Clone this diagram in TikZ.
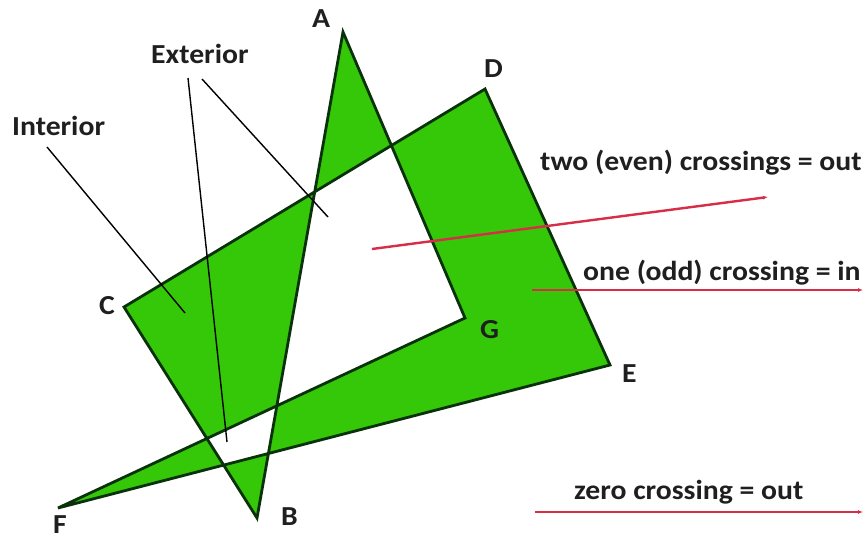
\documentclass[tikz,border=0pt]{standalone}
\usepackage{fontspec}
\setmainfont{Carlito}[FakeStretch=1.08]
\usetikzlibrary{arrows.meta}
\definecolor{polyfill}{RGB}{52,200,8}
\definecolor{polyedge}{RGB}{10,50,10}
\definecolor{rayred}{RGB}{215,45,70}
\tikzset{
  lbl/.style={anchor=base west, inner sep=0pt, font=\fontsize{27.5}{32}\selectfont\bfseries, text=black!88},
  ray/.style={rayred, line width=2.4pt, -{Latex[length=5pt,width=4pt]}},
  leader/.style={black, line width=1.4pt},
}
\begin{document}
\begin{tikzpicture}[x=1pt,y=-1pt]
\useasboundingbox (0,0) rectangle (864,541);
\fill[white] (0,0) rectangle (864,541);
\coordinate (A) at (343,32);
\coordinate (B) at (257,518);
\coordinate (C) at (124,307);
\coordinate (D) at (485,89);
\coordinate (E) at (610,365);
\coordinate (F) at (58,508);
\coordinate (G) at (465,318);
\fill[polyfill, even odd rule] (A)--(B)--(C)--(D)--(E)--(F)--(G)--cycle;
\draw[polyedge, line width=2.8pt, line join=miter] (A)--(B)--(C)--(D)--(E)--(F)--(G)--cycle;
% leader lines
\coordinate (i1) at (47,147); \coordinate (i2) at (185,313);
\coordinate (e1) at (188,78); \coordinate (e2) at (227,442);
\coordinate (e3) at (202,79); \coordinate (e4) at (328,217);
\draw[leader] (i1)--(i2);
\draw[leader] (e1)--(e2);
\draw[leader] (e3)--(e4);
% rays
\coordinate (r1a) at (372,249); \coordinate (r1b) at (768,197);
\coordinate (r2a) at (532,290); \coordinate (r2b) at (863,290);
\coordinate (r3a) at (535,512); \coordinate (r3b) at (863,512);
\draw[ray] (r1a)--(r1b);
\draw[ray] (r2a)--(r2b);
\draw[ray] (r3a)--(r3b);
% labels
\node[lbl] (lA) at (312,27) {A};
\node[lbl] (lB) at (281,525) {B};
\node[lbl] (lC) at (99,314) {C};
\node[lbl] (lD) at (484,77) {D};
\node[lbl] (lE) at (622,382) {E};
\node[lbl] (lF) at (53,533) {F};
\node[lbl] (lG) at (480,338) {G};
\node[lbl] (ext) at (151,63) {Exterior};
\node[lbl] (int) at (12,135) {Interior};
\node[lbl] (two) at (540,170) {two (even) crossings = out};
\node[lbl] (one) at (583,280) {one (odd) crossing = in};
\node[lbl] (zero) at (574,499) {zero crossing = out};
\end{tikzpicture}
\end{document}
